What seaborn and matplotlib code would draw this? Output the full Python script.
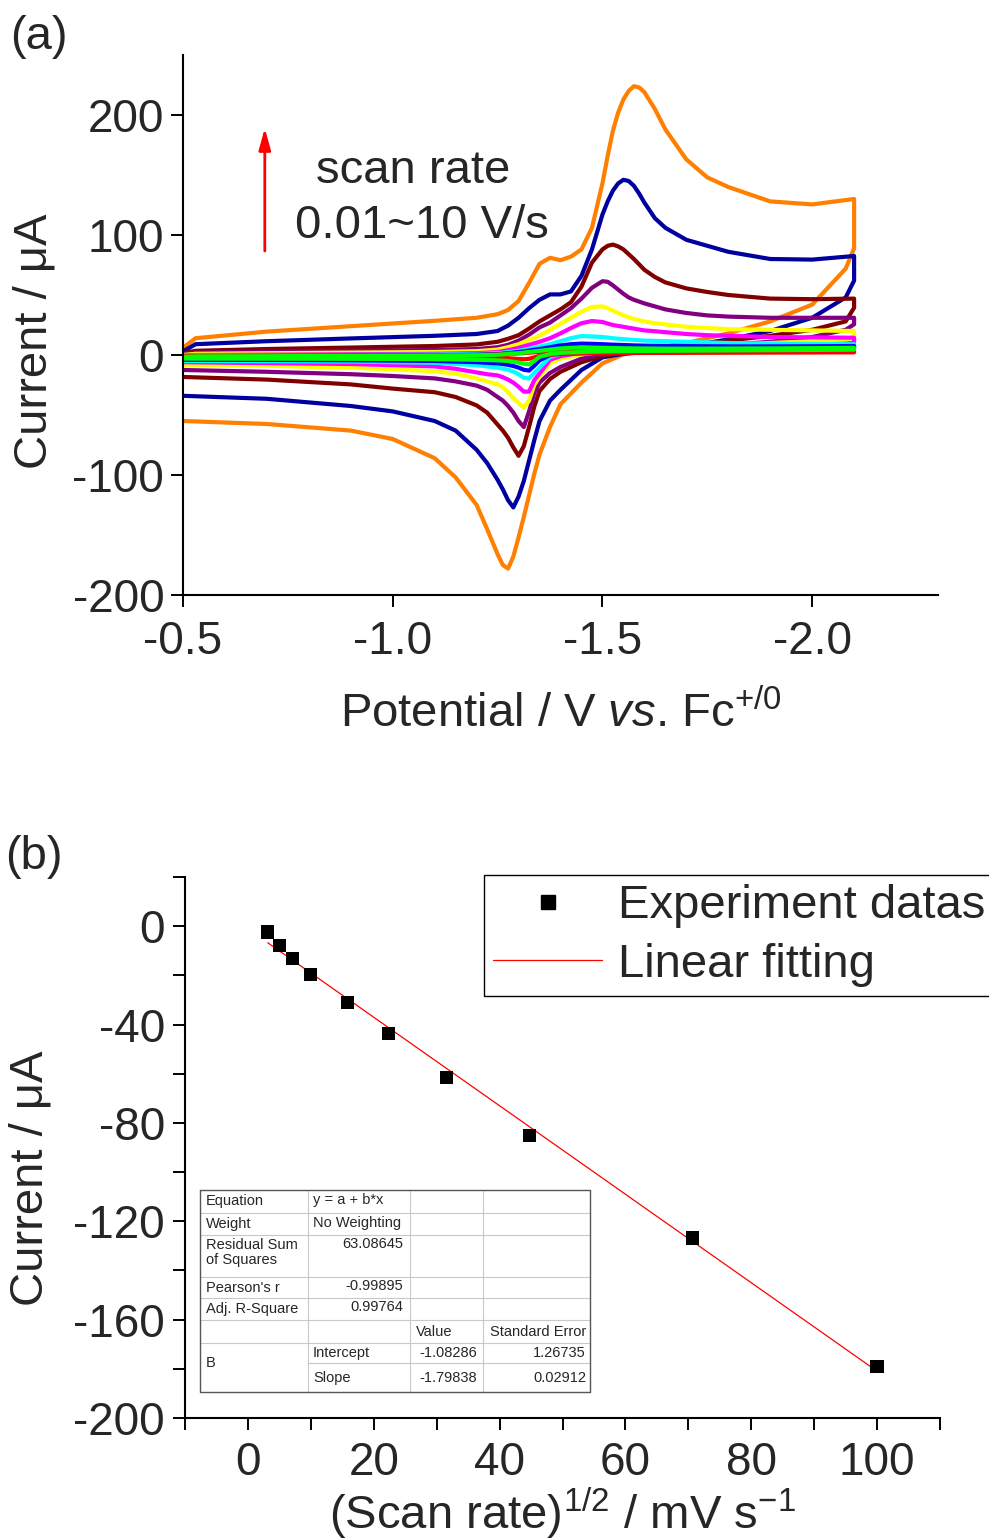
import matplotlib
matplotlib.use("Agg")
import matplotlib.pyplot as plt
from matplotlib.ticker import MultipleLocator, FormatStrFormatter
from matplotlib.lines import Line2D
import pandas as pd
import seaborn as sns

# ---------------- (a) cyclic voltammograms ----------------
# forward scan (-0.5 -> -2.1 V) and reverse scan (-2.1 -> -0.5 V)
potential_fwd = [-0.5, -0.53, -0.7, -0.9, -1.1, -1.2, -1.25, -1.275, -1.3, -1.325, -1.35,
                 -1.375, -1.4, -1.425, -1.45, -1.475, -1.5, -1.5125, -1.525, -1.5375, -1.55,
                 -1.5625, -1.575, -1.5875, -1.6, -1.625, -1.65, -1.7, -1.75, -1.8, -1.9,
                 -2.0, -2.1]
potential_rev = [-2.1, -2.08, -2.0, -1.9, -1.8, -1.7, -1.6, -1.55, -1.5, -1.45, -1.4, -1.375,
                 -1.35, -1.3375, -1.325, -1.3125, -1.3, -1.2875, -1.275, -1.2625, -1.25,
                 -1.225, -1.2, -1.15, -1.1, -1.0, -0.9, -0.7, -0.5]

fwd_10 = [6, 14, 19.5, 24, 28.5, 31, 34, 37.5, 45, 60, 76, 81, 79, 82, 88, 106, 143, 166, 187,
          202, 213, 220, 224, 223, 219, 205, 188, 163, 148, 140, 128, 125.5, 130]
rev_10 = [89, 72, 42, 28, 18, 10, 4, 0.5, -7, -23, -41, -60, -83, -99, -117, -135, -152, -168,
          -178, -175, -166, -145, -125, -102, -86, -70, -63, -57.5, -55]

fwd_5 = [3, 9, 11.5, 13.8, 16, 17.5, 20, 24.5, 31, 39, 46, 50.5, 50.5, 53, 66, 88, 117, 128,
         137, 143, 146, 145, 141, 134.5, 127, 114, 106, 96, 91, 86, 80, 79.5, 82.5]
rev_5 = [62, 48, 31, 20, 13, 7.2, 2.5, 1, -2, -12.5, -29, -38, -55, -71, -88, -105, -118, -127,
         -121, -112, -104, -90, -79, -63, -55, -47, -42.5, -36.5, -34]

fwd_2 = [1.5, 3.5, 5, 6.2, 7.5, 8.8, 11, 13.5, 16.5, 22, 28, 33, 38, 44, 57, 77, 88, 91, 92,
         90.5, 88, 84, 80, 75.5, 71, 65, 60.5, 55.5, 52.5, 50, 47, 46.5, 47]
rev_2 = [39.4, 28, 21, 16, 12, 7, 3.5, 2.5, -1, -6, -14, -20, -30, -43, -60, -76, -84, -77,
         -69, -63, -58, -48, -42, -35, -31, -28, -24.5, -20.5, -18.3]

fwd_1 = [0.5, 2, 2.8, 3.5, 4.2, 5, 6.5, 8.5, 12, 17, 23, 27, 33, 39, 47, 56, 61.5, 61, 58,
         54.5, 51, 48, 46, 44.5, 43, 40.5, 38, 35, 33, 32, 31, 31, 31]
rev_1 = [25.6, 21, 15, 11, 8.5, 6, 3.5, 2, 0.5, -3, -10, -15, -23, -32, -47, -60, -55, -48,
         -42.5, -38, -35, -29, -25.5, -22, -19.5, -17.5, -16, -14, -12.5]

fwd_05 = [0, 1, 1.5, 2, 2.5, 3.2, 4.5, 6.5, 9, 12.5, 16, 21, 26, 31, 36, 40, 40.5, 39, 37, 35,
          33, 31.5, 30, 29, 28, 26.5, 25.5, 23.5, 22.5, 21.5, 21, 20.5, 20]
rev_05 = [14.5, 13, 11.5, 10, 8, 6.5, 4.5, 3.5, 2.5, 0.5, -3, -7, -18, -25, -38, -44, -40, -36,
          -31, -27, -24.5, -22, -19.5, -15.5, -13.5, -12, -10.5, -9, -8.3]

fwd_025 = [-0.5, 0, 0.3, 0.6, 1, 1.5, 2.5, 4, 6, 8.5, 11, 14, 18, 22.5, 26.5, 28.3, 27.5, 26.2,
           25, 24.2, 23.5, 22.7, 22, 21.2, 20.5, 19.8, 19, 17.5, 16.5, 16, 15, 14.7, 14.4]
rev_025 = [10.3, 9.5, 8.5, 8, 7, 6, 5, 4, 3.5, 2, -1, -4, -15.5, -21, -30.5, -30.5, -26.5, -23,
           -20.5, -18.5, -17, -16, -14.5, -11.5, -9.5, -8.5, -7.5, -6.8, -6]

fwd_01 = [-1, -0.5, -0.3, 0, 0.3, 0.8, 1.5, 2.4, 3.5, 5.2, 7, 9, 11.5, 14, 15.8, 15.5, 15, 14.5,
          14, 13.6, 13.2, 12.9, 12.6, 12.3, 12, 11.8, 11.5, 11, 10.5, 10, 9.5, 9.2, 9]
rev_01 = [7, 6.8, 6.5, 6, 5.5, 5, 4.5, 4, 3.5, 2.5, 1, -1.5, -10.6, -15, -19.5, -19, -16, -13.8,
          -12.3, -11.3, -10.5, -9.5, -8.5, -7.5, -6.5, -6, -5.5, -5.2, -5]

fwd_005 = [-1.5, -1, -0.8, -0.5, -0.2, 0.2, 0.8, 1.5, 2.5, 3.7, 5, 6.5, 8, 9, 9.5, 9.3, 9, 8.8,
           8.6, 8.45, 8.3, 8.15, 8, 7.9, 7.8, 7.7, 7.6, 7.4, 7.3, 7.2, 7.2, 7.3, 7.5]
rev_005 = [5.5, 5.3, 5, 4.8, 4.5, 4.2, 4, 3.7, 3.3, 2.5, 1.5, 0, -4.5, -9, -13, -12.3, -10.5,
           -9.2, -8.2, -7.5, -7, -6.5, -6, -5.5, -5, -4.7, -4.4, -4.1, -4]

fwd_0025 = [-1.5, -1.2, -1, -0.8, -0.5, -0.2, 0.2, 0.8, 1.5, 2.5, 3.5, 4.5, 5.5, 6, 6.2, 6.1, 6,
            5.9, 5.8, 5.7, 5.6, 5.55, 5.5, 5.45, 5.4, 5.35, 5.3, 5.3, 5.3, 5.4, 5.5, 5.7, 6]
rev_0025 = [4.5, 4.4, 4.2, 4, 3.8, 3.6, 3.4, 3.2, 3, 2.5, 1.8, 0.8, -1.5, -5, -7.8, -7.3, -6.3,
            -5.6, -5, -4.7, -4.5, -4.2, -4, -3.7, -3.5, -3.3, -3.2, -3.1, -3]

fwd_001 = [-1, -0.8, -0.6, -0.4, -0.2, 0, 0.4, 0.8, 1.3, 1.9, 2.6, 3.1, 3.3, 3.3, 3.2, 3.1, 3,
           2.95, 2.9, 2.85, 2.8, 2.78, 2.75, 2.72, 2.7, 2.65, 2.6, 2.6, 2.6, 2.6, 2.7, 2.8, 3]
rev_001 = [2.2, 2.2, 2.1, 2, 1.9, 1.8, 1.7, 1.6, 1.5, 1.2, 0.8, 0.2, -0.8, -2, -3.2, -3.5, -3.3,
           -3, -2.7, -2.5, -2.4, -2.2, -2, -1.9, -1.8, -1.7, -1.6, -1.5, -1.5]

scan_rates = ["10", "5", "2", "1", "0.5", "0.25", "0.1", "0.05", "0.025", "0.01"]
curve_colors = ["#FF8000", "#0000A0", "#800000", "#800080", "#FFFF00",
                "#FF00FF", "#00FFFF", "#0000FF", "#00FF00", "#FF0000"]
cv_curves = [(fwd_10, rev_10), (fwd_5, rev_5), (fwd_2, rev_2), (fwd_1, rev_1),
             (fwd_05, rev_05), (fwd_025, rev_025), (fwd_01, rev_01), (fwd_005, rev_005),
             (fwd_0025, rev_0025), (fwd_001, rev_001)]
# drawing order: big loops first, green last (it sits on top in the original)
draw_order = ["10", "5", "2", "1", "0.5", "0.25", "0.1", "0.05", "0.01", "0.025"]

# ---------------- (b) peak current vs sqrt(scan rate) ----------------
sqrt_rate = [3.16, 5.0, 7.07, 10.0, 15.81, 22.36, 31.62, 44.72, 70.71, 100.0]
peak_current = [-2.4, -7.7, -13.0, -19.5, -30.9, -43.5, -61.4, -85.0, -126.8, -178.9]

fit_table = [
    ("Equation", "y = a + b*x", "", ""),
    ("Weight", "No Weighting", "", ""),
    ("Residual Sum\nof Squares", "63.08645", "", ""),
    ("Pearson's r", "-0.99895", "", ""),
    ("Adj. R-Square", "0.99764", "", ""),
    ("", "", "Value", "Standard Error"),
    ("B", "Intercept", "-1.08286", "1.26735"),
    ("", "Slope", "-1.79838", "0.02912"),
]

# ---------------- style ----------------
sns.set_style("ticks")
plt.rcParams["font.family"] = ["Liberation Sans", "DejaVu Sans"]
plt.rcParams["mathtext.fontset"] = "custom"
plt.rcParams["mathtext.rm"] = "Liberation Sans"
plt.rcParams["mathtext.it"] = "Liberation Sans:italic"
plt.rcParams["axes.unicode_minus"] = False
plt.rcParams["lines.solid_joinstyle"] = "round"

FS = 34      # labels / annotations
TFS = 33     # tick labels
W, H = 989, 1540
fig = plt.figure(figsize=(W / 100, H / 100), dpi=100)


def px_axes(left, top, right, bottom):
    return fig.add_axes([left / W, 1 - bottom / H, (right - left) / W, (bottom - top) / H])


def style_axis(ax):
    sns.despine(ax=ax)
    for s in ("left", "bottom"):
        ax.spines[s].set_linewidth(1.5)
        ax.spines[s].set_color("black")
    ax.tick_params(which="both", direction="out", length=8.5, width=1.4,
                   labelsize=TFS, color="black")


# ---- panel (a)
ax1 = px_axes(183, 55, 938, 595)
rows = []
for rate, (fwd, rev) in zip(scan_rates, cv_curves):
    assert len(fwd) == len(potential_fwd) and len(rev) == len(potential_rev)
    for step, (e, i) in enumerate(zip(potential_fwd + potential_rev, fwd + rev)):
        rows.append((rate, step, e, i))
cv = pd.DataFrame(rows, columns=["rate", "step", "E", "I"])
sns.lineplot(data=cv, x="E", y="I", hue="rate", hue_order=draw_order,
             palette=dict(zip(scan_rates, curve_colors)), sort=False, estimator=None,
             lw=3.0, legend=False, ax=ax1)

ax1.set_xlim(-0.5, -2.3)
ax1.set_ylim(-200, 250)
ax1.set_xticks([-0.5, -1.0, -1.5, -2.0])
ax1.set_yticks([-200, -100, 0, 100, 200])
ax1.xaxis.set_major_formatter(FormatStrFormatter("%.1f"))
style_axis(ax1)
ax1.tick_params(axis="x", pad=9.5)
ax1.tick_params(axis="y", pad=5)
ax1.set_xlabel(r"Potential / V $\mathit{vs}$. Fc$^{+/0}$", fontsize=FS)
ax1.set_ylabel("Current / μA", fontsize=FS)
ax1.xaxis.set_label_coords(0.5, -0.178)
ax1.yaxis.set_label_coords(-0.168, 0.47)

ax1.annotate("", xy=(-0.695, 189), xytext=(-0.695, 86.7),
             arrowprops=dict(arrowstyle="-|>,head_length=0.65,head_width=0.18",
                             color="red", lw=2, mutation_scale=20, shrinkA=0, shrinkB=0))
ax1.text(-1.048, 143.3, "scan rate", ha="center", va="baseline", fontsize=FS)
ax1.text(-1.069, 97.5, "0.01~10 V/s", ha="center", va="baseline", fontsize=FS)

fig.text(10 / W, 1 - 37 / H, "(a)", ha="left", va="center", fontsize=FS)

# ---- panel (b)
ax2 = px_axes(185, 877, 940, 1418)
sns.regplot(x=sqrt_rate, y=peak_current, ax=ax2, scatter=False, ci=None,
            color="red", line_kws={"lw": 0.9, "zorder": 2})
sns.scatterplot(x=sqrt_rate, y=peak_current, ax=ax2, marker="s", s=90,
                color="black", edgecolor="none", zorder=3)

ax2.set_xlim(-10, 110)
ax2.set_ylim(-200, 20)
ax2.xaxis.set_major_locator(MultipleLocator(20))
ax2.xaxis.set_minor_locator(MultipleLocator(10))
ax2.yaxis.set_major_locator(MultipleLocator(40))
ax2.yaxis.set_minor_locator(MultipleLocator(20))
style_axis(ax2)
ax2.tick_params(axis="x", pad=8)
ax2.tick_params(axis="y", pad=6)
ax2.set_xlabel(r"(Scan rate)$^{1/2}$ / mV s$^{-1}$", fontsize=FS)
ax2.set_ylabel("Current / μA", fontsize=FS)
ax2.xaxis.set_label_coords(0.5, -0.125)
ax2.yaxis.set_label_coords(-0.175, 0.444)

handles = [Line2D([], [], ls="none", marker="s", ms=9.5, color="black"),
           Line2D([], [], color="red", lw=0.9)]
leg = ax2.legend(handles, ["Experiment datas", "Linear fitting"],
                 loc="upper left", bbox_to_anchor=(484 / W, 1 - 875 / H),
                 bbox_transform=fig.transFigure, fontsize=FS, frameon=True,
                 fancybox=False, edgecolor="black", framealpha=1,
                 handlelength=2.3, handletextpad=0.33, borderpad=0.2,
                 labelspacing=0.3, borderaxespad=0)
leg.get_frame().set_linewidth(1.0)

fig.text(5 / W, 1 - 857 / H, "(b)", ha="left", va="center", fontsize=FS)

# ---- fit result table (inset)
tab = px_axes(200, 1190, 590, 1392)
tab.set_xlim(200, 590)
tab.set_ylim(1392, 1190)
tab.axis("off")
col_x = [200, 308, 410, 483, 590]
row_y = [1190, 1212.7, 1235, 1276.7, 1298.3, 1320, 1343.3, 1363.3, 1392]
grid_c = "#c8c8c8"
for y in row_y[1:-2]:
    tab.plot([200, 590], [y, y], color=grid_c, lw=0.8)
tab.plot([308, 590], [row_y[-2], row_y[-2]], color=grid_c, lw=0.8)
for x in col_x[1:-1]:
    tab.plot([x, x], [1190, 1392], color=grid_c, lw=0.8)
tab.plot([200, 590, 590, 200, 200], [1190, 1190, 1392, 1392, 1190],
         color="#555555", lw=1.0, clip_on=False)

tfs = 10.5
for r, (c0, c1, c2, c3) in enumerate(fit_table):
    yc = (row_y[r] + row_y[r + 1]) / 2
    if c0 and r != 6:
        tab.text(206, yc if "\n" not in c0 else row_y[r] + 3, c0, fontsize=tfs,
                 va="center" if "\n" not in c0 else "top", ha="left", linespacing=1.05)
    if r == 6:
        tab.text(206, row_y[7], c0, fontsize=tfs, va="center", ha="left")
    if c1:
        if r in (0, 1, 6, 7):
            tab.text(313, yc - (1 if r < 2 else 0), c1, fontsize=tfs, va="center", ha="left")
        else:
            tab.text(403, row_y[r] + 2, c1, fontsize=tfs, va="top", ha="right")
    if c2:
        if r == 5:
            tab.text(416, yc, c2, fontsize=tfs, va="center", ha="left")
        else:
            tab.text(477, yc, c2, fontsize=tfs, va="center", ha="right")
    if c3:
        tab.text(586, yc, c3, fontsize=tfs, va="center", ha="right")

fig.savefig("out.png", dpi=100)
